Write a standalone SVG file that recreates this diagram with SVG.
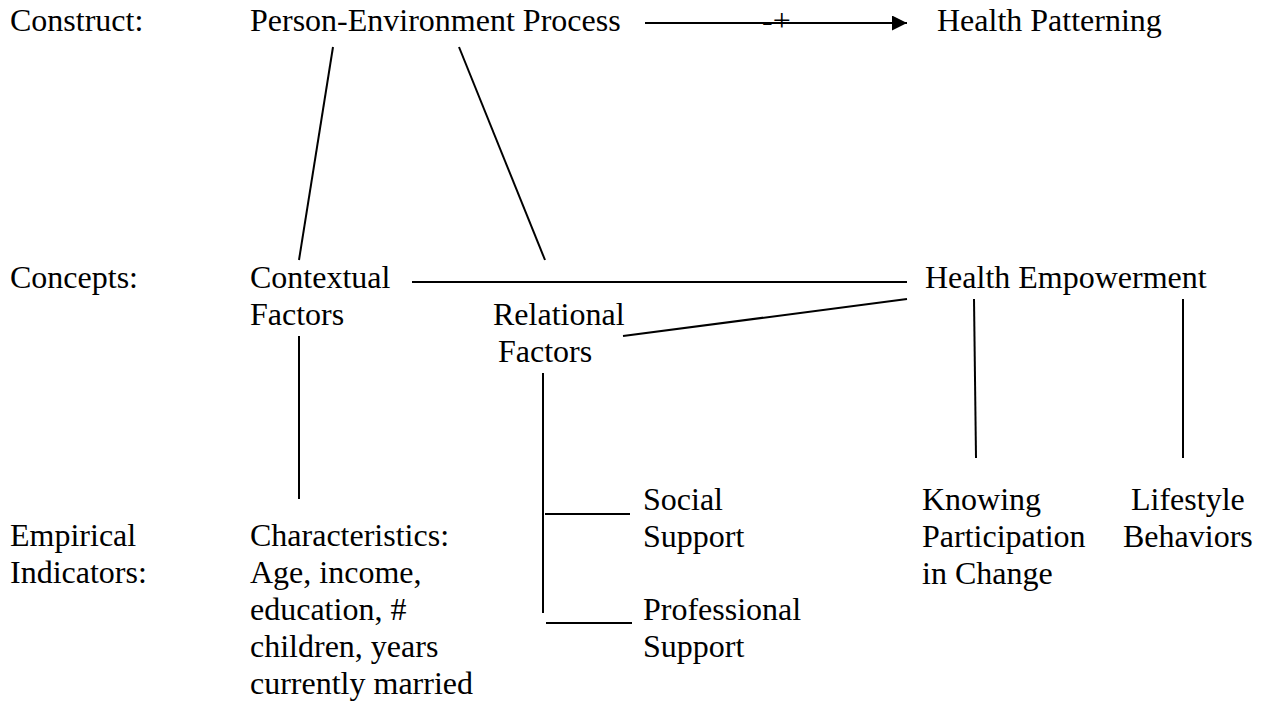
<svg xmlns="http://www.w3.org/2000/svg" width="1269" height="704" viewBox="0 0 1269 704">
<defs>
<style>
text{font-family:"Liberation Serif","Times New Roman",serif;font-size:32px;fill:#000}
.c{stroke:#000;stroke-width:2;fill:none}
</style>
<marker id="ah" markerWidth="15" markerHeight="15" refX="15" refY="7.5" orient="auto" markerUnits="userSpaceOnUse">
<path d="M0,0 L15,7.5 L0,15 Z" fill="#000"/>
</marker>
</defs>
<rect width="1269" height="704" fill="#fff"/>
<g id="row-labels">
<text x="10" y="31">Construct:</text>
<text x="10" y="288">Concepts:</text>
<text x="10" y="546">Empirical</text>
<text x="10" y="583">Indicators:</text>
</g>
<g id="person-environment"><text x="250" y="31">Person-Environment Process</text></g>
<g id="health-patterning"><text x="937" y="31">Health Patterning</text></g>
<g id="contextual"><text x="250" y="288">Contextual</text><text x="250" y="325">Factors</text></g>
<g id="relational"><text x="493" y="325">Relational</text><text x="498" y="362">Factors</text></g>
<g id="health-empowerment"><text x="925" y="288">Health Empowerment</text></g>
<g id="characteristics"><text x="250" y="546">Characteristics:</text><text x="250" y="583">Age, income,</text><text x="250" y="620">education, #</text><text x="250" y="657">children, years</text><text x="250" y="694">currently married</text></g>
<g id="social"><text x="643" y="510">Social</text><text x="643" y="547">Support</text></g>
<g id="professional"><text x="643" y="620">Professional</text><text x="643" y="657">Support</text></g>
<g id="knowing"><text x="922" y="510">Knowing</text><text x="922" y="547">Participation</text><text x="922" y="584">in Change</text></g>
<g id="lifestyle"><text x="1131" y="510">Lifestyle</text><text x="1123" y="547">Behaviors</text></g>
<g id="connectors">
<line class="c" x1="645" y1="23" x2="907" y2="23" marker-end="url(#ah)"/>
<text x="762" y="31">-+</text>
<line class="c" x1="333" y1="47" x2="299" y2="260"/>
<line class="c" x1="459" y1="47" x2="545" y2="260"/>
<line class="c" x1="412" y1="282" x2="907" y2="282"/>
<line class="c" x1="623" y1="336" x2="907" y2="299"/>
<line class="c" x1="299" y1="336" x2="299" y2="499"/>
<line class="c" x1="543" y1="373" x2="543" y2="613"/>
<line class="c" x1="545" y1="514" x2="630" y2="514"/>
<line class="c" x1="546" y1="623" x2="632" y2="623"/>
<line class="c" x1="974" y1="299" x2="976" y2="458"/>
<line class="c" x1="1183" y1="299" x2="1183" y2="458"/>
</g>
</svg>
